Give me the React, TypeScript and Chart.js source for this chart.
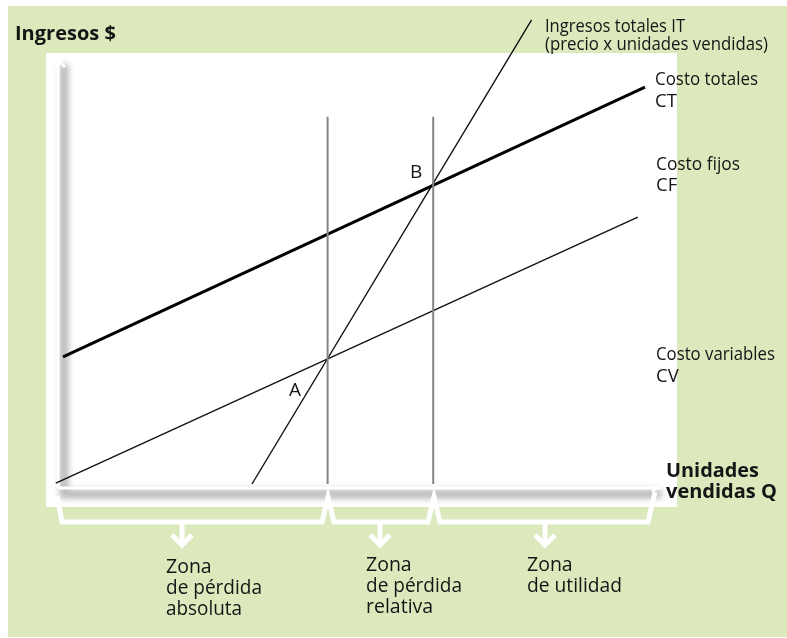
import React, { useEffect, useRef } from "react";
import { Chart, registerables } from "chart.js";

Chart.register(...registerables);

// Data (Q units on x, $ units on y)
const ingresosTotalesIT = [
  { x: 32.5, y: 0 },
  { x: 79.1, y: 96.7 },
];
const costoTotalesCT = [
  { x: 1.0, y: 26.5 },
  { x: 98.0, y: 82.7 },
];
const costoVariablesCV = [
  { x: -0.2, y: 0.2 },
  { x: 96.8, y: 55.6 },
];
const puntoEquilibrioA = [
  { x: 45.1, y: 0 },
  { x: 45.1, y: 76.5 },
];
const puntoEquilibrioB = [
  { x: 62.7, y: 0 },
  { x: 62.7, y: 76.5 },
];

const FONT = "'Open Sans'";

const decoPlugin = {
  id: "deco",
  beforeDraw(chart: any) {
    const ctx = chart.ctx as CanvasRenderingContext2D;
    ctx.save();
    ctx.fillStyle = "#ffffff";
    ctx.fillRect(0, 0, chart.width, chart.height);
    ctx.fillStyle = "#dbe9bd";
    ctx.fillRect(8, 6, 779, 631);
    ctx.fillStyle = "#ffffff";
    ctx.fillRect(46, 53, 631, 454);
    // shadowed axes
    ctx.filter = "blur(3px)";
    ctx.strokeStyle = "#b8b8b8";
    ctx.lineWidth = 9;
    ctx.lineCap = "round";
    ctx.beginPath();
    ctx.moveTo(64, 68);
    ctx.lineTo(64, 494);
    ctx.lineTo(658, 494);
    ctx.stroke();
    ctx.filter = "none";
    ctx.strokeStyle = "#ffffff";
    ctx.lineWidth = 3;
    ctx.lineCap = "butt";
    ctx.beginPath();
    ctx.moveTo(58, 488);
    ctx.lineTo(58, 62);
    ctx.stroke();
    ctx.beginPath();
    ctx.moveTo(58, 488);
    ctx.lineTo(661, 488);
    ctx.stroke();
    ctx.lineWidth = 2.5;
    ctx.beginPath();
    ctx.moveTo(53, 69);
    ctx.lineTo(59, 61);
    ctx.lineTo(65, 67);
    ctx.stroke();
    ctx.beginPath();
    ctx.moveTo(653, 476);
    ctx.lineTo(663, 483);
    ctx.lineTo(652, 492);
    ctx.stroke();
    ctx.restore();
  },
  afterDraw(chart: any) {
    const ctx = chart.ctx as CanvasRenderingContext2D;
    ctx.save();
    // braces
    ctx.strokeStyle = "#ffffff";
    ctx.lineWidth = 5;
    ctx.lineJoin = "miter";
    ctx.beginPath();
    ctx.moveTo(57, 496);
    ctx.lineTo(62, 522);
    ctx.lineTo(322, 522);
    ctx.lineTo(328, 497);
    ctx.lineTo(334, 522);
    ctx.lineTo(428, 522);
    ctx.lineTo(434, 497);
    ctx.lineTo(440, 522);
    ctx.lineTo(648, 522);
    ctx.lineTo(655, 492);
    ctx.stroke();
    for (const ax of [182, 380, 545]) {
      ctx.beginPath();
      ctx.moveTo(ax, 522);
      ctx.lineTo(ax, 545);
      ctx.stroke();
      ctx.beginPath();
      ctx.moveTo(ax - 10, 535);
      ctx.lineTo(ax, 545);
      ctx.lineTo(ax + 10, 535);
      ctx.stroke();
    }
    // texts
    ctx.fillStyle = "#151515";
    ctx.textBaseline = "alphabetic";
    ctx.textAlign = "left";
    const t = (s: string, x: number, y: number, w: number, bold = false, size = 18.5) => {
      ctx.font = `${bold ? "bold " : ""}${size}px ${FONT}`;
      ctx.fillText(s, x, y, w);
    };
    t("Ingresos $", 15, 40, 102, true, 20);
    t("Ingresos totales IT", 545, 32, 140);
    t("(precio x unidades vendidas)", 545, 50, 223);
    t("Costo totales", 655, 85, 103);
    t("CT", 655, 107, 40);
    t("Costo fijos", 656, 170, 84);
    t("CF", 656, 191, 40);
    t("Costo variables", 656, 360, 119);
    t("CV", 656, 382, 40);
    t("A", 289, 396, 20, false, 19);
    t("B", 410, 178, 20, false, 19);
    t("Unidades", 666, 477, 93, true, 20);
    t("vendidas Q", 666, 498, 112, true, 20);
    t("Zona", 166, 573, 60, false, 19.5);
    t("de pérdida", 166, 594, 96, false, 19.5);
    t("absoluta", 166, 615, 76, false, 19.5);
    t("Zona", 366, 571, 60, false, 19.5);
    t("de pérdida", 366, 592, 96, false, 19.5);
    t("relativa", 366, 613, 70, false, 19.5);
    t("Zona", 527, 571, 60, false, 19.5);
    t("de utilidad", 527, 592, 95, false, 19.5);
    ctx.restore();
  },
};

export default function App() {
  const ref = useRef<HTMLCanvasElement | null>(null);
  useEffect(() => {
    if (!ref.current) return;
    const line = (data: any, width: number, color: string) => ({
      data,
      showLine: true,
      borderColor: color,
      borderWidth: width,
      pointRadius: 0,
      fill: false,
      clip: false,
    });
    const chart = new Chart(ref.current, {
      type: "scatter",
      data: {
        datasets: [
          line(puntoEquilibrioA, 2, "#858585"),
          line(puntoEquilibrioB, 2, "#858585"),
          line(costoVariablesCV, 1.4, "#111111"),
          line(costoTotalesCT, 3, "#000000"),
          line(ingresosTotalesIT, 1.4, "#111111"),
        ] as any,
      },
      options: {
        animation: false,
        responsive: false,
        devicePixelRatio: 1,
        layout: { padding: { left: 57, right: 130, top: 4, bottom: 154 } },
        scales: {
          x: { type: "linear", min: 0, max: 100, display: false },
          y: { type: "linear", min: 0, max: 100, display: false },
        },
        plugins: { legend: { display: false }, tooltip: { enabled: false } },
      } as any,
      plugins: [decoPlugin],
    });
    return () => chart.destroy();
  }, []);
  return (
    <div style={{ position: "fixed", left: 0, top: 0, width: 787, height: 638 }}>
      <canvas ref={ref} width={787} height={638} />
    </div>
  );
}
